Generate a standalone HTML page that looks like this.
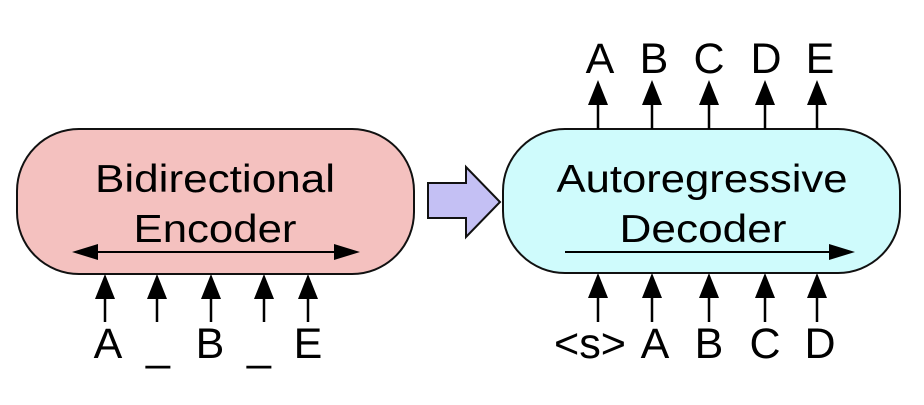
<!DOCTYPE html>
<html><head><style>html,body{margin:0;padding:0;background:#fff}</style></head>
<body>
<svg width="924" height="400" xmlns="http://www.w3.org/2000/svg" font-family="Liberation Sans, Arial, sans-serif">
<rect x="17" y="129" width="397" height="145" rx="62" fill="#f4c1bf" stroke="#111" stroke-width="2"/>
<text x="215" y="192" font-size="39" text-anchor="middle" textLength="240" lengthAdjust="spacingAndGlyphs">Bidirectional</text>
<text x="215" y="242" font-size="39" text-anchor="middle" textLength="163" lengthAdjust="spacingAndGlyphs">Encoder</text>
<line x1="95" y1="252" x2="336" y2="252" stroke="#000" stroke-width="2"/>
<polygon points="72,252 98,244 98,260" fill="#000"/>
<polygon points="360,252 334,244 334,260" fill="#000"/>
<g stroke="#000" stroke-width="2.5">
<line x1="105" y1="322" x2="105" y2="295"/><line x1="157" y1="322" x2="157" y2="295"/><line x1="211" y1="322" x2="211" y2="295"/><line x1="264" y1="322" x2="264" y2="295"/><line x1="308" y1="322" x2="308" y2="295"/>
</g>
<g fill="#000">
<polygon points="105,274 95,299 115,299"/><polygon points="157,274 147,299 167,299"/><polygon points="211,274 201,299 221,299"/><polygon points="264,274 254,299 274,299"/><polygon points="308,274 298,299 318,299"/>
</g>
<g font-size="43" text-anchor="middle">
<text x="108" y="358">A</text><text x="158" y="360">_</text><text x="210" y="358">B</text><text x="259" y="360">_</text><text x="308" y="358">E</text>
</g>
<polygon points="428,183 466,183 466,167 500,202 466,237 466,218 428,218" fill="#c4c0f4" stroke="#111" stroke-width="2"/>
<rect x="503" y="129" width="397" height="144" rx="62" fill="#cffbfc" stroke="#111" stroke-width="2"/>
<text x="702" y="192" font-size="39" text-anchor="middle" textLength="291" lengthAdjust="spacingAndGlyphs">Autoregressive</text>
<text x="703" y="242" font-size="39" text-anchor="middle" textLength="167" lengthAdjust="spacingAndGlyphs">Decoder</text>
<line x1="565" y1="252" x2="832" y2="252" stroke="#000" stroke-width="2"/>
<polygon points="855,252 829,244 829,260" fill="#000"/>
<g stroke="#000" stroke-width="2.5">
<line x1="598" y1="129" x2="598" y2="102"/><line x1="652" y1="129" x2="652" y2="102"/><line x1="709" y1="129" x2="709" y2="102"/><line x1="765" y1="129" x2="765" y2="102"/><line x1="817" y1="129" x2="817" y2="102"/>
<line x1="598" y1="322" x2="598" y2="295"/><line x1="652" y1="322" x2="652" y2="295"/><line x1="709" y1="322" x2="709" y2="295"/><line x1="765" y1="322" x2="765" y2="295"/><line x1="817" y1="322" x2="817" y2="295"/>
</g>
<g fill="#000">
<polygon points="598,80 588,105 608,105"/><polygon points="652,80 642,105 662,105"/><polygon points="709,80 699,105 719,105"/><polygon points="765,80 755,105 775,105"/><polygon points="817,80 807,105 827,105"/>
<polygon points="598,273 588,298 608,298"/><polygon points="652,273 642,298 662,298"/><polygon points="709,273 699,298 719,298"/><polygon points="765,273 755,298 775,298"/><polygon points="817,273 807,298 827,298"/>
</g>
<g font-size="43" text-anchor="middle">
<text x="600" y="73">A</text><text x="654" y="73">B</text><text x="709" y="73">C</text><text x="766" y="73">D</text><text x="820" y="73">E</text>
<text x="590" y="358" textLength="72" lengthAdjust="spacingAndGlyphs">&lt;s&gt;</text><text x="655" y="358">A</text><text x="709" y="358">B</text><text x="765" y="358">C</text><text x="820" y="358">D</text>
</g>
</svg>
</body></html>
